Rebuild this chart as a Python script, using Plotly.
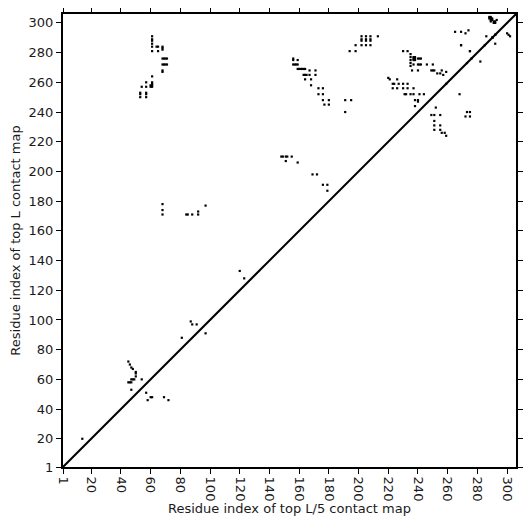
import plotly.graph_objects as go

# contact points (residue i, residue j)
contact_x = [
    # top-left cluster
    61, 61, 61, 61, 61, 64, 65, 68, 61, 65, 68, 68, 68, 69, 70, 71, 68, 69, 70, 71, 68, 68,
    61, 61, 61, 57, 60, 61, 60, 61, 54, 57, 53, 57, 53, 57, 53, 57,
    # top middle cluster
    202, 205, 208, 213, 202, 205, 208, 202, 205, 208, 198, 202, 205, 208, 198, 194,
    156, 156, 159, 156, 157, 158, 159, 159, 160, 161, 162, 163, 164, 167, 171,
    163, 164, 165, 167, 171, 164, 168, 168, 173, 176, 173, 176, 176, 180, 177, 180,
    191, 195, 191, 220,
    # mid-left
    68, 68, 68, 84, 85, 88, 92, 92, 97,
    148, 149, 151, 152, 155, 151, 159, 169, 172, 176, 179, 179,
    120, 123, 14,
    # lower-left cluster (L/5)
    45, 46, 47, 48, 50, 50, 50, 47, 48, 49, 45, 46, 47, 54, 47, 57, 58, 60, 61, 69, 72,
    87, 88, 91, 97, 81,
    # right cluster
    269, 275, 230, 233, 235, 235, 235, 235, 235, 237, 238, 237, 238, 237, 238,
    240, 241, 242, 240, 241, 242, 237, 246, 250, 236, 240, 249, 250, 251,
    253, 255, 257, 259, 221, 226, 223, 224, 227, 230, 233,
    223, 226, 230, 233, 237, 231, 232, 235, 237, 241, 244, 238, 240, 240, 238,
    252, 249, 251, 255, 251, 251, 255, 251, 255, 256, 258, 259, 268, 273, 275, 272, 275,
    # top-right corner
    288, 289, 289, 290, 291, 292, 293, 292, 291, 290, 289, 288, 289,
    300, 301, 302, 265, 269, 272, 274, 286, 292, 269, 275, 282, 256,
    # lower-right
    259, 290, 290, 292, 290, 292, 273, 276, 285,
]
contact_y = [
    # top-left cluster
    291, 289, 288, 286, 284, 284, 284, 284, 281, 281, 283, 282, 276, 276, 276, 276, 272, 272, 272, 272, 268, 267,
    264, 260, 259, 260, 258, 258, 257, 257, 257, 257, 253, 253, 250, 250, 252, 252,
    # top middle cluster
    291, 291, 291, 291, 289, 289, 289, 288, 288, 288, 285, 285, 285, 285, 281, 281,
    275, 276, 275, 272, 272, 272, 272, 269, 269, 269, 269, 269, 269, 268, 268,
    265, 265, 265, 265, 265, 262, 262, 258, 256, 256, 252, 252, 248, 248, 245, 245,
    248, 248, 240, 263,
    # mid-left
    178, 174, 171, 171, 171, 171, 173, 171, 177,
    210, 210, 210, 210, 210, 207, 206, 198, 198, 191, 191, 187,
    133, 128, 20,
    # lower-left cluster (L/5)
    72, 70, 68, 67, 65, 64, 62, 60, 60, 60, 58, 58, 58, 60, 53, 51, 46, 48, 48, 48, 46,
    99, 97, 97, 91, 88,
    # right cluster
    285, 281, 281, 281, 279, 277, 275, 273, 271, 277, 277, 275, 275, 276, 276,
    276, 276, 276, 272, 272, 272, 272, 272, 272, 268, 268, 268, 268, 268,
    266, 266, 265, 267, 262, 262, 259, 259, 259, 259, 259,
    256, 256, 256, 256, 256, 252, 252, 252, 252, 252, 252, 248, 248, 247, 244,
    243, 238, 238, 238, 234, 231, 231, 228, 228, 226, 226, 224, 252, 240, 240, 237, 237,
    # top-right corner
    304, 304, 303, 302, 301, 301, 302, 300, 300, 303, 302, 303, 301,
    293, 292, 291, 294, 294, 293, 295, 291, 286, 285, 281, 274, 268,
    # lower-right
    259, 290, 290, 292, 290, 292, 273, 276, 285,
]

tick_vals = [1, 20, 40, 60, 80, 100, 120, 140, 160, 180, 200, 220, 240, 260, 280, 300]
tick_text = [str(v) for v in tick_vals]
axis_range = [1, 306]
diag = [1, 306]

fig = go.Figure()
fig.add_trace(go.Scatter(
    x=contact_x, y=contact_y, mode="markers",
    marker=dict(symbol="square", size=2.2, color="black", line=dict(width=0)),
    hoverinfo="skip",
))
fig.add_trace(go.Scatter(
    x=diag, y=diag, mode="lines",
    line=dict(color="black", width=2), hoverinfo="skip",
))

font = dict(family="DejaVu Sans", size=13, color="#1a1a1a")

fig.update_layout(
    width=523, height=523, showlegend=False,
    margin=dict(l=55, r=15, t=6, b=64),
    plot_bgcolor="white", paper_bgcolor="white",
    xaxis=dict(
        range=axis_range, tickmode="array", tickvals=tick_vals, ticktext=tick_text,
        tickangle=90, ticks="outside", ticklen=5, tickwidth=1,
        tickcolor="black", showline=True, linecolor="black", linewidth=2, mirror="ticks",
        showgrid=False, zeroline=False, automargin=False, tickfont=font,
        title=dict(text="Residue index of top L/5 contact map", font=font, standoff=2),
    ),
    yaxis=dict(
        range=axis_range, tickmode="array", tickvals=tick_vals, ticktext=tick_text,
        ticks="outside", ticklen=5, tickwidth=1,
        tickcolor="black", showline=True, linecolor="black", linewidth=2, mirror="ticks",
        showgrid=False, zeroline=False, automargin=False, tickfont=font,
        title=dict(text="Residue index of top L contact map", font=font, standoff=6),
    ),
)
fig.write_html("out.html")
